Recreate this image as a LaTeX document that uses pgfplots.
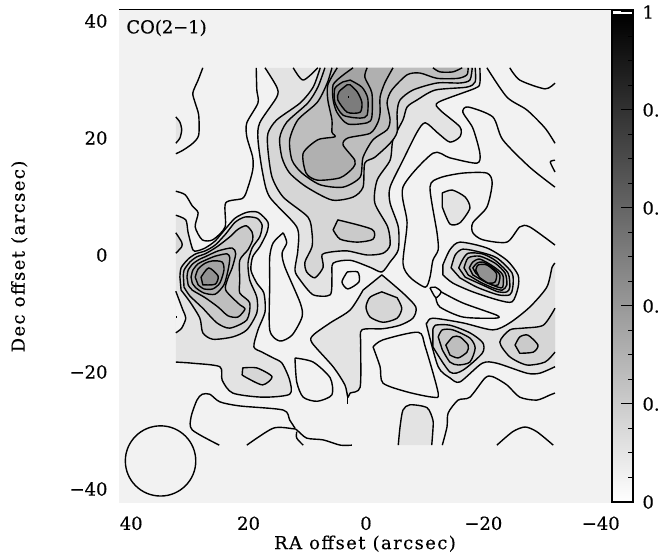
\documentclass[border=0pt]{standalone}
\usepackage{fontspec}
\setmainfont[FakeBold=0.4]{DejaVu Serif}
\newfontfamily\lab[FakeBold=0.4,LetterSpace=8]{DejaVu Serif}
\usepackage{pgfplots}
\usepackage{pgfplotstable}
\pgfplotsset{compat=1.18}
\definecolor{bgc}{HTML}{F2F2F2}
\definecolor{la}{HTML}{E3E3E3}
\definecolor{lb}{HTML}{D6D6D6}
\definecolor{lc}{HTML}{CACACA}
\definecolor{ld}{HTML}{BEBEBE}
\definecolor{le}{HTML}{B0B0B0}
\definecolor{lf}{HTML}{A4A4A4}
\definecolor{lg}{HTML}{929292}
\definecolor{lh}{HTML}{7C7C7C}
\pgfplotstableread[row sep=\\]{x y\\32.4 6.8\\30.7 6.0\\30.3 3.8\\29.5 0.9\\28.8 0.7\\27.4 1.2\\25.7 2.4\\24.0 4.4\\22.3 6.3\\20.3 7.3\\18.4 7.3\\16.7 5.6\\16.9 3.8\\18.1 1.4\\19.3 -0.3\\19.6 -2.6\\18.6 -4.8\\17.4 -6.5\\17.2 -9.7\\18.4 -12.8\\19.1 -15.7\\17.7 -16.6\\15.8 -17.6\\14.3 -18.5\\13.0 -21.4\\13.0 -23.8\\17.6 -24.3\\22.7 -23.6\\24.5 -21.4\\24.9 -19.1\\29.5 -18.5\\32.4 -18.3\\}\tCa
\pgfplotstableread[row sep=\\]{x y\\32.4 -6.2\\31.2 -9.4\\30.7 -10.8\\31.4 -12.5\\32.4 -13.3\\}\tHole
\pgfplotstableread[row sep=\\]{x y\\32.4 3.8\\31.4 2.2\\31.4 1.4\\32.4 0.3\\}\tArcB
\pgfplotstableread[row sep=\\]{x y\\32.4 23.6\\31.7 22.7\\31.4 21.4\\31.7 20.0\\32.4 19.1\\}\tArcA
\pgfplotstableread[row sep=\\]{x y\\17.2 32.0\\15.2 28.7\\15.2 27.0\\18.1 22.6\\18.4 19.7\\17.6 14.0\\16.4 9.9\\11.8 4.8\\11.6 0.9\\12.1 -2.6\\11.2 -4.3\\9.0 -6.8\\6.1 -6.8\\5.8 -3.8\\5.6 -1.4\\2.7 -0.9\\-0.7 -2.1\\-2.7 -2.9\\-4.1 -1.2\\-5.5 0.9\\-5.5 4.8\\-4.1 8.9\\-4.1 11.6\\-6.3 16.2\\-8.7 21.0\\-10.1 22.6\\-12.3 20.8\\-14.3 19.3\\-16.0 20.2\\-16.0 21.9\\-12.6 24.8\\-12.3 26.1\\-18.6 28.5\\-19.4 29.4\\-19.4 32.0\\}\tNa
\pgfplotstableread[row sep=\\]{x y\\7.8 32.0\\9.0 28.7\\11.2 26.0\\15.2 23.1\\16.7 20.8\\16.7 17.9\\16.0 13.3\\14.1 9.9\\9.9 6.5\\9.2 3.8\\9.2 1.4\\10.4 -1.2\\10.1 -2.9\\8.7 -3.9\\7.3 -2.1\\7.5 0\\6.1 0.5\\3.2 0.7\\-0.2 0\\-2.9 0.3\\-4.1 1.7\\-3.7 4.8\\-1.5 8.9\\-1.9 12.8\\-4.1 16.2\\-4.6 19.7\\-6.3 23.1\\-7.0 25.3\\-8.7 26.5\\-11.8 28.2\\-17.2 28.7\\-18.6 29.6\\-18.6 32.0\\}\tNb
\pgfplotstableread[row sep=\\]{x y\\7.0 32.0\\8.2 28.7\\9.9 26.0\\13.5 22.7\\14.7 20.0\\14.3 16.6\\13.0 14.0\\10.1 11.6\\5.8 9.4\\2.2 9.9\\0.5 11.6\\0.2 15.7\\-1.5 16.7\\-4.1 19.1\\-5.3 21.0\\-5.3 24.4\\-5.8 26.5\\-8.0 28.2\\-12.1 29.4\\-16.0 29.4\\-17.7 29.9\\-18.1 32.0\\}\tNc
\pgfplotstableread[row sep=\\]{x y\\5.8 32.0\\6.6 29.4\\8.3 26.1\\11.6 23.1\\13.0 19.7\\12.6 16.2\\10.9 14.0\\7.8 12.0\\3.9 11.6\\1.0 13.3\\0.5 16.7\\-1.2 19.7\\-3.6 21.4\\-4.1 23.1\\-3.6 26.1\\-4.4 28.2\\-7.0 30.8\\-9.2 31.1\\-12.1 30.2\\-15.7 30.2\\-17.2 30.8\\-17.4 32.0\\}\tNd
\pgfplotstableread[row sep=\\]{x y\\4.9 32.0\\6.5 29.1\\6.5 26.5\\5.8 23.1\\5.8 21.0\\5.3 20.2\\8.2 19.7\\10.7 17.4\\10.2 14.0\\8.3 12.8\\4.4 13.2\\2.2 14.9\\1.9 16.2\\3.9 18.8\\3.1 20.0\\-0.7 20.8\\-2.0 22.6\\-2.4 24.3\\-2.4 27.0\\-3.2 29.4\\-4.6 32.0\\}\tNe
\pgfplotstableread[row sep=\\]{x y\\2.2 32.0\\4.1 30.6\\5.6 29.1\\5.6 26.5\\4.9 24.3\\3.1 22.4\\-0.2 22.6\\-1.0 23.6\\-1.0 27.7\\0.2 30.4\\-0.2 32.0\\}\tRa
\pgfplotstableread[row sep=\\]{x y\\-11.4 32.0\\-12.6 31.3\\-14.8 31.3\\-16.4 32.0\\}\tPk
\pgfplotstableread[row sep=\\]{x y\\-32.2 -19.1\\-29.6 -20.2\\-27.4 -20.2\\-22.3 -18.5\\-19.8 -18.5\\-16.0 -21.7\\-14.3 -21.0\\-12.3 -19.1\\-10.4 -12.3\\-10.4 -11.6\\-11.4 -10.8\\-16.5 -11.6\\-21.6 -12.8\\-24.5 -11.6\\-27.9 -8.9\\-30.8 -5.5\\-31.7 -2.1\\-32.2 -1.4\\}\tSa
\pgfplotstableread[row sep=\\]{x y\\-32.2 -16.6\\-30.5 -18.3\\-27.4 -18.8\\-24.5 -17.4\\-22.8 -14.9\\-24.5 -12.8\\-26.8 -12.5\\-30.2 -12.0\\-32.2 -9.1\\}\tSb
\pgfplotstableread[row sep=\\]{x y\\-5.5 -32.5\\-5.8 -29.4\\-6.3 -26.5\\-7.5 -25.6\\-10.4 -26.1\\-11.4 -28.2\\-11.4 -29.9\\-11.2 -32.5\\}\tLp
\pgfplotsset{
 cl/.style={black,line width=1.4pt,smooth,tension=0.45,line join=round,mark=none},
 ff/.style={draw=none,fill=#1,smooth,tension=0.45,mark=none},
 cf/.style={draw=black,line width=1.4pt,fill=#1,smooth,tension=0.45,line join=round,mark=none}
}
\begin{document}
\begin{tikzpicture}
\useasboundingbox (0,0) rectangle (658bp,557bp);
\clip (0,0) rectangle (658bp,557bp);
\begin{axis}[
 at={(119bp,54bp)},anchor=south west,scale only axis,width=492bp,height=493bp,
 x dir=reverse,xmin=-41.74,xmax=42.08,ymin=-42.39,ymax=41.88,
 xtick={40,20,0,-20,-40},xticklabels={40,20,0,−20,−40},
 ytick={40,20,0,-20,-40},yticklabels={40,20,0,−20,−40},
 tick style={draw=none},axis line style={draw=none},
 axis background/.style={fill=bgc},
 tick label style={font=\fontsize{18}{20}\selectfont},
 label style={font=\lab\fontsize{18}{20}\selectfont},
 xticklabel style={yshift=-10bp},
 yticklabel style={xshift=-8bp},
 xlabel={RA offset (arcsec)},
 ylabel={Dec offset (arcsec)},
 xlabel style={at={(axis description cs:0.5,0)},anchor=north,yshift=-29bp},
 ylabel style={at={(axis description cs:0,0.5)},anchor=south,yshift=88bp},
]
% fills
\addplot[ff=la] table {\tCa} --cycle;
\addplot[ff=bgc] table {\tHole} --cycle;
\addplot[ff=lb] table {\tArcB} --cycle;
\addplot[ff=la] table {\tArcA} --cycle;
\addplot[cl] table {\tCa};
\addplot[cl] table {\tHole};
\addplot[cl] table {\tArcB};
\addplot[cl] table {\tArcA};
\addplot[cl,sharp plot] coordinates {(32.3,-10.6)(32.2,-10.6)};
% west blob
\addplot[cf=lb] coordinates {(31.7,-3.8)(31.5,-2.2)(30.3,-0.7)(29.0,0.2)(27.4,0.7)(25.7,1.7)(23.9,3.6)(22.3,5.6)(20.6,6.5)(18.6,6.3)(17.7,5.1)(18.1,3.1)(19.4,1.2)(20.1,-1.4)(19.8,-4.3)(18.6,-7.2)(18.6,-9.9)(20.3,-12.8)(22.7,-14.0)(26.1,-14.4)(27.8,-13.3)(28.3,-10.8)(30.0,-8.0)(31.5,-6.0)} --cycle;
\addplot[cf=lc] coordinates {(31.1,-3.8)(31.0,-2.6)(30.0,-1.2)(28.8,-0.3)(27.4,0.2)(25.4,1.4)(23.2,3.1)(21.8,4.4)(20.4,5.0)(19.4,3.9)(19.3,2.6)(20.1,0.9)(21.5,-0.9)(21.5,-4.3)(21.5,-6.5)(19.8,-8.2)(20.3,-11.1)(23.2,-12.5)(25.4,-11.6)(27.8,-9.1)(30.0,-7.0)(31.0,-5.5)} --cycle;
\addplot[cf=ld] coordinates {(30.5,-3.8)(30.3,-2.6)(29.5,-1.5)(28.3,-0.7)(27.4,-0.3)(25.2,0.7)(22.8,1.2)(22.2,0.2)(22.8,-2.2)(23.5,-3.9)(23.9,-6.0)(21.5,-8.5)(20.6,-9.2)(21.8,-10.6)(23.5,-10.4)(25.2,-8.9)(27.4,-7.3)(29.6,-6.0)(30.3,-5.1)} --cycle;
\addplot[cf=le] coordinates {(29.8,-3.8)(29.5,-2.6)(28.6,-1.5)(27.4,-0.9)(25.7,-0.2)(23.7,0.2)(23.2,-0.5)(23.5,-2.6)(24.2,-5.1)(25.7,-6.7)(27.6,-6.5)(29.0,-5.6)(29.6,-4.8)} --cycle;
\addplot[cf=lf] coordinates {(29.1,-3.8)(28.6,-2.4)(27.4,-1.4)(26.1,-1.0)(24.5,-1.2)(24.2,-2.6)(24.9,-4.8)(26.1,-5.8)(27.6,-5.8)(28.6,-5.1)} --cycle;
\addplot[cf=lg] coordinates {(28.1,-3.8)(26.8,-2.2)(25.2,-3.6)(25.7,-5.0)(27.8,-5.1)} --cycle;
\addplot[cf=lb] coordinates {(21.0,-19.3)(18.6,-19.3)(16.0,-20.8)(17.6,-22.2)(20.3,-21.0)(21.1,-20.5)} --cycle;
% north complex
\addplot[ff=la] table {\tNa} --cycle;
\addplot[cl] table {\tNa};
\addplot[ff=lb] table {\tNb} --cycle;
\addplot[cl] table {\tNb};
\addplot[cf=lc] coordinates {(4.8,6.0)(-1.0,4.4)(-1.2,2.7)(1.5,2.2)(4.4,2.7)(5.6,4.3)} --cycle;
\addplot[ff=lc] table {\tNc} --cycle;
\addplot[cl] table {\tNc};
\addplot[ff=ld] table {\tNd} --cycle;
\addplot[cl] table {\tNd};
\addplot[ff=le] table {\tPk} --cycle;
\addplot[cl] table {\tPk};
\addplot[ff=le] table {\tNe} --cycle;
\addplot[cl] table {\tNe};
\addplot[ff=lf] table {\tRa} --cycle;
\addplot[cl] table {\tRa};
\addplot[cf=lg] coordinates {(3.9,29.6)(5.3,28.5)(5.3,26.1)(3.9,23.9)(1.0,23.4)(-0.2,23.9)(-0.3,26.8)(0.7,28.7)(2.7,29.9)} --cycle;
\addplot[cf=lh] coordinates {(3.2,29.1)(4.6,27.9)(4.8,26.5)(3.2,24.4)(1.0,24.4)(0.7,26.1)(1.5,27.9)(2.7,29.1)} --cycle;
\addplot[cl,sharp plot] coordinates {(3.0,27.0)(2.9,27.0)};
\addplot[cl] coordinates {(12.4,32.0)(10.7,29.9)(8.2,32.0)};
% centre and south
\addplot[cf=la] coordinates {(-13.0,10.6)(-14.7,11.1)(-16.9,9.9)(-17.7,8.0)(-16.0,5.5)(-14.3,5.3)(-13.0,8.2)} --cycle;
\addplot[cf=la] coordinates {(-2.7,-3.4)(-6.3,-6.5)(-8.5,-8.9)(-8.0,-10.8)(-5.8,-12.0)(-2.9,-12.6)(0.7,-12.8)(0.9,-15.4)(1.0,-22.6)(2.7,-23.6)(3.1,-24.3)(3.6,-22.2)(5.6,-19.1)(9.2,-15.0)(9.0,-13.7)(6.1,-11.6)(2.7,-9.4)(0.5,-6.0)} --cycle;
\addplot[cl,sharp plot] coordinates {(3.1,-23.6)(3.1,-25.5)};
\addplot[cf=lb] coordinates {(-2.7,-6.3)(-0.7,-7.2)(0,-8.9)(-0.7,-10.6)(-2.9,-11.5)(-5.3,-10.8)(-6.1,-9.1)(-5.3,-7.3)} --cycle;
\addplot[ff=la] table {\tSa} --cycle;
\addplot[cl] table {\tSa};
\addplot[ff=lb] table {\tSb} --cycle;
\addplot[cl] table {\tSb};
\addplot[cf=lc] coordinates {(-25.4,-15.4)(-26.2,-14.0)(-27.6,-13.7)(-29.3,-15.4)(-28.5,-16.6)(-26.2,-16.8)} --cycle;
\addplot[cf=lb] coordinates {(-11.4,-12.8)(-11.8,-12.0)(-14.3,-12.0)(-17.7,-13.3)(-19.9,-15.0)(-19.8,-16.8)(-16.5,-19.7)(-14.3,-20.0)(-11.4,-15.7)} --cycle;
\addplot[cf=lc] coordinates {(-12.3,-14.0)(-13.0,-12.8)(-14.8,-12.8)(-17.7,-14.2)(-18.6,-15.9)(-17.7,-18.3)(-15.7,-18.8)(-14.3,-18.3)(-13.0,-16.2)} --cycle;
\addplot[cf=ld] coordinates {(-13.6,-15.4)(-14.8,-14.0)(-16.0,-14.0)(-17.4,-15.4)(-17.2,-16.6)(-15.7,-17.6)(-14.3,-17.1)} --cycle;
\addplot[ff=la] table {\tLp} --cycle;
\addplot[cl] table {\tLp};
% east blob
\addplot[cf=la] coordinates {(-13.1,-1.7)(-14.3,0.9)(-16.0,2.2)(-20.6,1.2)(-24.0,-0.9)(-25.9,-3.4)(-25.9,-5.6)(-24.9,-8.0)(-22.5,-7.7)(-18.2,-6.3)(-14.8,-4.8)(-13.1,-3.4)} --cycle;
\addplot[cf=lb] coordinates {(-14.5,-2.2)(-15.2,0)(-16.5,1.0)(-19.4,0.5)(-22.3,-0.5)(-24.9,-3.1)(-25.0,-5.6)(-24.5,-6.8)(-22.5,-6.8)(-18.9,-5.5)(-16.0,-3.9)} --cycle;
\addplot[cf=lc] coordinates {(-15.8,-2.2)(-16.4,-0.9)(-17.4,0.3)(-19.8,0.2)(-22.0,-0.9)(-24.2,-3.1)(-24.5,-5.5)(-24.0,-6.3)(-22.5,-6.3)(-19.8,-5.1)(-16.9,-3.8)} --cycle;
\addplot[cf=ld] coordinates {(-16.7,-2.2)(-17.4,-0.5)(-19.4,-0.2)(-22.0,-1.4)(-23.7,-3.1)(-24.0,-5.1)(-23.2,-6.0)(-21.6,-5.6)(-19.4,-4.6)(-17.4,-3.4)} --cycle;
\addplot[cf=le] coordinates {(-17.6,-2.2)(-18.2,-1.2)(-19.4,-0.7)(-21.6,-1.9)(-23.3,-3.4)(-23.3,-5.5)(-22.5,-5.5)(-20.3,-4.6)(-18.2,-3.4)} --cycle;
\addplot[cf=lf] coordinates {(-18.2,-2.2)(-18.9,-1.4)(-19.9,-1.2)(-21.5,-2.1)(-22.8,-3.4)(-22.5,-5.1)(-21.5,-5.1)(-19.9,-4.1)(-18.7,-3.1)} --cycle;
\addplot[cf=lg] coordinates {(-18.7,-2.6)(-19.1,-1.7)(-20.6,-1.7)(-22.2,-3.1)(-22.0,-4.6)(-20.8,-4.8)(-19.3,-3.8)} --cycle;
% contour lines over the pale ground
\addplot[cl] coordinates {(27.8,32.0)(28.6,29.9)(29.5,27.7)(29.1,26.0)(28.5,23.9)(28.5,20.5)(29.5,19.1)(31.2,17.9)(32.4,17.3)};
\addplot[cl] coordinates {(32.4,10.9)(30.8,10.3)(29.6,8.4)(28.6,7.2)(29.1,4.8)(27.9,2.6)(26.1,2.6)(24.0,4.8)(23.9,8.9)(21.0,9.7)(20.1,11.6)(19.3,14.5)(19.3,16.7)(20.3,20.2)(20.3,22.6)(18.4,26.0)(18.6,28.2)(18.7,32.0)};
\addplot[cl] coordinates {(14.1,3.8)(13.5,2.1)(14.3,0.3)(13.8,-2.1)(11.2,-8.2)(10.9,-10.6)(12.6,-13.7)(14.7,-14.7)(16.4,-12.8)(16.4,-4.8)(16.4,-0.3)(15.8,2.1)(14.1,3.8)};
\addplot[cl] coordinates {(3.2,-2.9)(1.4,-2.9)(1.2,-4.6)(3.1,-5.8)(4.1,-4.6)(3.2,-2.9)};
\addplot[cl] coordinates {(-1.2,-15.7)(-2.9,-14.5)(-8.9,-13.2)(-10.1,-15.7)(-12.3,-23.6)(-11.4,-24.3)(-7.0,-23.4)(-2.9,-21.9)(-2.4,-19.1)(-1.2,-15.7)};
\addplot[cl] coordinates {(-13.0,-32.5)(-13.8,-29.4)(-14.0,-27.0)(-15.7,-24.8)(-17.7,-24.3)(-20.3,-21.0)(-21.6,-20.8)(-24.0,-22.2)(-26.2,-24.3)(-29.1,-24.8)(-31.4,-23.9)(-32.2,-23.6)};
\addplot[cl] coordinates {(-22.3,-32.5)(-25.0,-30.2)(-27.1,-29.4)(-29.1,-30.2)(-31.9,-32.5)};
\addplot[cl] coordinates {(25.0,-32.5)(29.6,-29.9)(29.8,-27.7)(28.8,-24.8)(27.9,-23.8)(26.6,-23.8)(24.9,-25.1)(21.5,-25.8)(14.1,-26.5)(13.0,-28.2)(12.1,-29.6)};
\addplot[cl] coordinates {(20.3,-32.5)(15.8,-29.6)(12.4,-29.7)(11.8,-29.9)(10.1,-31.3)(7.3,-31.6)(4.4,-32.5)(2.4,-32.5)};
\addplot[cl] coordinates {(11.8,-30.2)(11.8,-31.3)(10.7,-32.5)};
\addplot[cl] coordinates {(12.1,-17.6)(9.0,-18.3)(6.1,-21.0)(5.8,-23.9)(8.3,-25.0)(10.7,-24.3)(11.8,-21.7)(12.1,-17.6)};
\addplot[cl] coordinates {(-24.5,32.0)(-26.2,29.9)(-30.5,28.4)(-32.2,29.4)};
\addplot[cl] coordinates {(-20.6,32.0)(-24.0,27.0)(-27.4,24.8)(-30.5,21.7)(-32.2,19.1)};
\addplot[cl] coordinates {(-32.2,16.2)(-31.4,15.9)(-32.2,14.2)};
\addplot[cl] coordinates {(-32.2,11.6)(-27.9,15.0)(-23.3,19.7)(-21.6,23.6)(-17.4,25.3)(-16.5,24.4)(-18.2,21.7)(-19.4,17.4)(-18.9,15.7)(-14.3,16.6)(-11.4,17.4)(-6.3,11.6)(-7.0,5.5)(-6.3,-1.4)(-7.5,-3.8)(-10.1,-5.5)(-10.9,-3.8)(-11.4,-0.9)(-12.3,0.9)(-12.1,3.8)(-10.9,11.6)(-12.6,13.2)(-16.5,14.0)(-20.6,14.0)(-21.5,12.3)(-20.6,8.2)(-18.2,5.5)(-18.2,3.8)(-19.9,2.6)(-24.0,2.2)(-26.2,4.8)(-27.9,4.8)(-32.2,1.7)};
\addplot[cl] coordinates {(-10.9,-5.6)(-11.8,-5.5)(-12.8,-6.3)(-11.9,-7.3)(-10.9,-5.6)};
\addplot[cl] coordinates {(-12.8,-6.3)(-16.5,-8.2)(-22.3,-10.3)(-22.0,-10.8)(-16.5,-10.6)(-12.6,-8.9)(-11.9,-7.3)};
\draw[black,line width=1.4pt] (axis cs:35,-35.2) circle [radius=6];
\draw[black,line width=1pt] (rel axis cs:0,1) -- (rel axis cs:1,1);
\draw[gray!30,line width=0.8pt] (rel axis cs:0,0) -- (rel axis cs:1,0);
\node[anchor=west,font=\fontsize{18}{20}\selectfont] at (rel axis cs:0.008,0.9635) {CO(2−1)};
\end{axis}
\begin{axis}[
 at={(612bp,55bp)},anchor=south west,scale only axis,width=21bp,height=492bp,
 xmin=0,xmax=1,ymin=0,ymax=1.004,xtick=\empty,
 ytick={0,0.2,0.4,0.6,0.8,1},yticklabels={0,0.,0.,0.,0.,1},
 minor y tick num=3,
 ytick pos=right,yticklabel pos=right,tick align=inside,
 major tick length=12bp,minor tick length=5bp,
 tick style={black,line width=1pt},
 axis line style={black,line width=1.4pt},
 axis on top,
 tick label style={font=\fontsize{18}{20}\selectfont},
 yticklabel style={anchor=west,xshift=6bp},
 clip=true,
]
\addplot[draw=none,forget plot] coordinates {(0,0)(1,1)};
\shade[bottom color=white,top color=black] (axis cs:0,0) rectangle (axis cs:1,0.994);
\end{axis}
\end{tikzpicture}
\end{document}
